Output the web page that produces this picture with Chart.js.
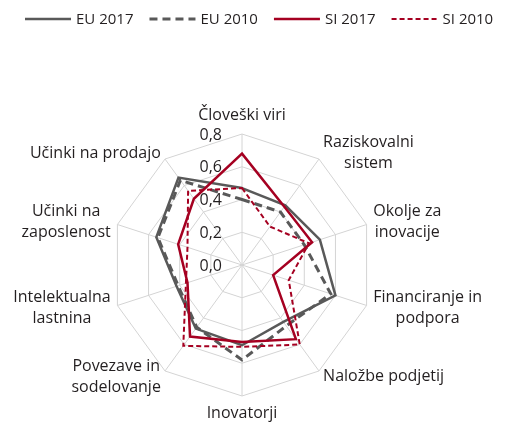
<!DOCTYPE html>
<html>
<head>
<meta charset="utf-8">
<script src="https://cdn.jsdelivr.net/npm/chart.js@4.4.1/dist/chart.umd.min.js"></script>
<style>
  html, body { margin: 0; padding: 0; background: #ffffff; }
</style>
</head>
<body>
<canvas id="radarChart" width="513" height="422"></canvas>
<script>
// podatki
const categories = [
    ["Človeški viri"],
    ["Raziskovalni", "sistem"],
    ["Okolje za", "inovacije"],
    ["Financiranje in", "podpora"],
    ["Naložbe podjetij"],
    ["Inovatorji"],
    ["Povezave in", "sodelovanje"],
    ["Intelektualna", "lastnina"],
    ["Učinki na", "zaposlenost"],
    ["Učinki na prodajo"],
];
const eu2017 = [0.47, 0.45, 0.50, 0.60, 0.43, 0.49, 0.48, 0.42, 0.55, 0.66];
const eu2010 = [0.40, 0.40, 0.40, 0.57, 0.46, 0.58, 0.47, 0.41, 0.54, 0.64];
const si2017 = [0.68, 0.44, 0.45, 0.20, 0.56, 0.47, 0.54, 0.35, 0.41, 0.50];
const si2010 = [0.47, 0.29, 0.43, 0.30, 0.60, 0.50, 0.61, 0.36, 0.35, 0.56];
const seriesNames = ["EU 2017", "EU 2010", "SI 2017", "SI 2010"];
const tickValues = [0, 0.2, 0.4, 0.6, 0.8];
const tickLabels = ["0,0", "0,2", "0,4", "0,6", "0,8"];

const gray = "#595959";
const red = "#a50021";
const textColor = "#231f20";
const font = "16px 'Open Sans', sans-serif";
const legendFont = "15px 'Open Sans', sans-serif";

// legenda in oznake rišemo sami, da je razporeditev kot v originalu
const textLayer = {
    id: "textLayer",
    afterDatasetsDraw(chart) {
        const ctx = chart.ctx;
        const r = chart.scales.r;
        ctx.save();
        ctx.font = font;
        ctx.fillStyle = textColor;

        // vrednosti na osi
        ctx.textAlign = "right";
        ctx.textBaseline = "middle";
        tickValues.forEach((v, i) => {
            const d = r.getDistanceFromCenterForValue(v);
            ctx.fillText(tickLabels[i], r.xCenter - 20, r.yCenter - d + 1);
        });

        // imena kategorij
        const lineH = 21;
        const n = categories.length;
        categories.forEach((lines, i) => {
            const p = r.getPointPosition(i, r.drawingArea + 7);
            const blockW = Math.max(...lines.map((t) => ctx.measureText(t).width));
            let cx, cy;
            if (i === 0) {
                cx = p.x; cy = p.y - 12;
            } else if (i === n / 2) {
                cx = p.x; cy = p.y + 10;
            } else if (i < n / 2) {
                cx = p.x + blockW / 2; cy = p.y;
            } else {
                cx = p.x - blockW / 2; cy = p.y;
            }
            ctx.textAlign = "center";
            lines.forEach((t, k) => {
                ctx.fillText(t, cx, cy + (k - (lines.length - 1) / 2) * lineH);
            });
        });
        ctx.restore();
    },
    afterDraw(chart) {
        const ctx = chart.ctx;
        ctx.save();
        ctx.font = legendFont;
        ctx.textBaseline = "middle";
        ctx.textAlign = "left";
        let x = 25;
        const y = 19;
        chart.data.datasets.forEach((ds) => {
            ctx.beginPath();
            ctx.strokeStyle = ds.borderColor;
            ctx.lineWidth = ds.borderWidth;
            ctx.setLineDash(ds.borderDash || []);
            ctx.moveTo(x, y);
            ctx.lineTo(x + 46, y);
            ctx.stroke();
            ctx.setLineDash([]);
            ctx.fillStyle = textColor;
            ctx.fillText(ds.label, x + 51, y + 1);
            x += 51 + ctx.measureText(ds.label).width + 16;
        });
        ctx.restore();
    },
};

new Chart(document.getElementById("radarChart"), {
    type: "radar",
    data: {
        labels: categories,
        datasets: [
            { label: seriesNames[0], data: eu2017, borderColor: gray, borderWidth: 2.5, order: 2 },
            { label: seriesNames[1], data: eu2010, borderColor: gray, borderWidth: 3, borderDash: [8, 5], order: 3 },
            { label: seriesNames[2], data: si2017, borderColor: red, borderWidth: 2.5, order: 0 },
            { label: seriesNames[3], data: si2010, borderColor: red, borderWidth: 2, borderDash: [5, 3], order: 1 },
        ],
    },
    options: {
        responsive: false,
        animation: false,
        layout: { padding: { top: 134, bottom: 26, left: 0, right: 29 } },
        elements: {
            line: { tension: 0, fill: false, borderJoinStyle: "miter" },
            point: { radius: 0, hoverRadius: 0 },
        },
        plugins: { legend: { display: false }, tooltip: { enabled: false } },
        scales: {
            r: {
                min: 0,
                max: 0.8,
                ticks: { stepSize: 0.2, display: false },
                pointLabels: { display: false },
                grid: { color: "#d4d4d4", lineWidth: 1 },
                angleLines: { color: "#d4d4d4", lineWidth: 1 },
            },
        },
    },
    plugins: [textLayer],
});
</script>
</body>
</html>
